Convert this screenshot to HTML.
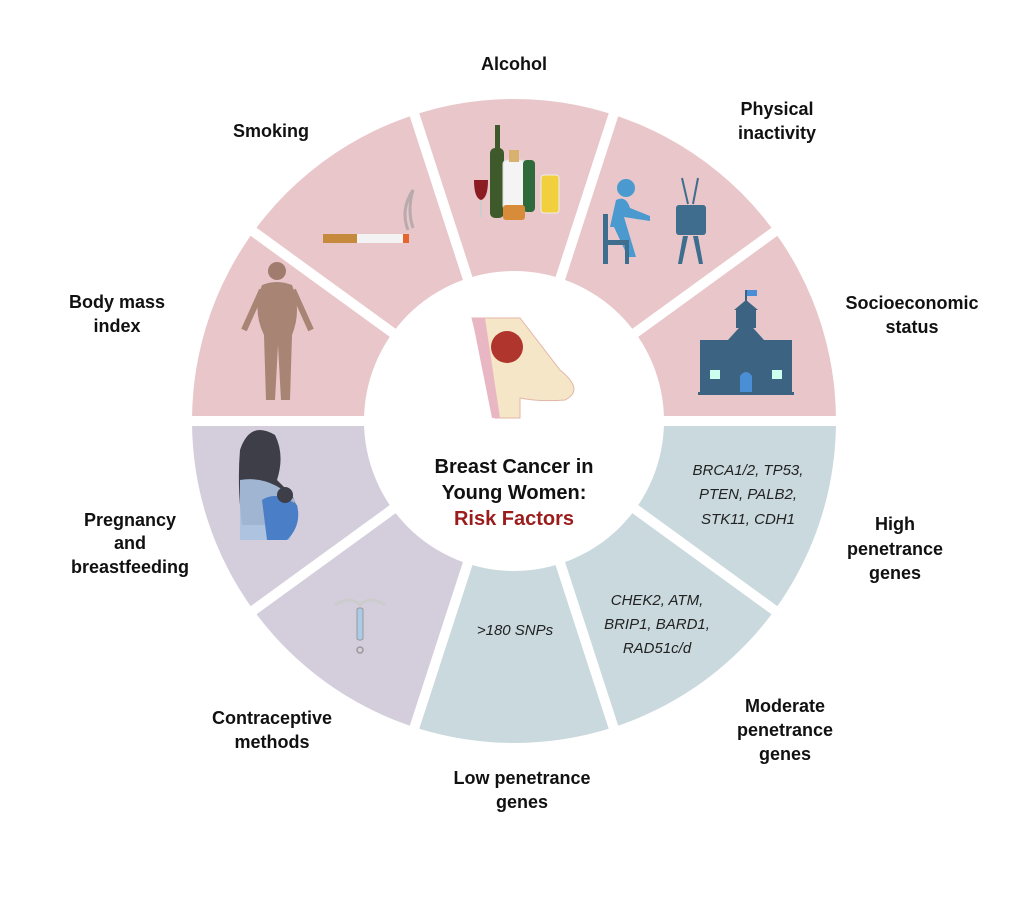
<!DOCTYPE html>
<html><head><meta charset="utf-8"><style>
html,body{margin:0;padding:0;background:#fff;}
svg{display:block;}
.l{font-family:"Liberation Sans",sans-serif;font-weight:bold;font-size:18px;fill:#111;text-anchor:middle;}
.g{font-family:"Liberation Sans",sans-serif;font-style:italic;font-size:15px;fill:#222;text-anchor:middle;}
.t{font-family:"Liberation Sans",sans-serif;font-weight:bold;font-size:20px;fill:#111;text-anchor:middle;}
</style></head><body>
<svg width="1024" height="905" viewBox="0 0 1024 905" xmlns="http://www.w3.org/2000/svg">
<rect width="1024" height="905" fill="#fff"/>
<path d="M192 421 A322 322 0 0 1 836 421 Z" fill="#e8c6ca"/>
<path d="M514 421 L836 421 A322 322 0 0 1 414.5 727.2 Z" fill="#c9d9de"/>
<path d="M514 421 L414.5 727.2 A322 322 0 0 1 192 421 Z" fill="#d4cedc"/>
<g stroke="#fff" stroke-width="10">
<line x1="514" y1="421" x2="844" y2="421"/>
<line x1="514" y1="421" x2="781" y2="227"/>
<line x1="514" y1="421" x2="616" y2="107"/>
<line x1="514" y1="421" x2="412" y2="107"/>
<line x1="514" y1="421" x2="247" y2="227"/>
<line x1="514" y1="421" x2="184" y2="421"/>
<line x1="514" y1="421" x2="247" y2="615"/>
<line x1="514" y1="421" x2="412" y2="735"/>
<line x1="514" y1="421" x2="616" y2="735"/>
<line x1="514" y1="421" x2="781" y2="615"/>
</g>
<circle cx="514" cy="421" r="150" fill="#fff"/>

<!-- breast icon -->
<path d="M472 318 L520 318 L560 370 Q585 390 565 400 Q540 402 520 398 L520 418 L495 418 L495 400 Q485 370 472 318 Z" fill="#f6e6c8" stroke="#e3b6a8"/>
<path d="M472 318 L485 318 L500 418 L492 418 Z" fill="#e9b7c4"/>
<circle cx="507" cy="347" r="16" fill="#b0352c"/>
<!-- alcohol -->
<rect x="490" y="148" width="14" height="70" rx="5" fill="#3f5a2a"/>
<rect x="495" y="125" width="5" height="25" fill="#3f5a2a"/>
<path d="M474 180 h14 q0 18 -7 20 q-7 -2 -7 -20z" fill="#8b1c24"/>
<rect x="480" y="200" width="2" height="17" fill="#ccc"/>
<rect x="503" y="160" width="22" height="50" rx="4" fill="#f4f4f4" stroke="#ddd"/>
<rect x="509" y="150" width="10" height="12" fill="#d8b070"/>
<rect x="523" y="160" width="12" height="52" rx="4" fill="#2f6b3a"/>
<rect x="541" y="175" width="18" height="38" rx="3" fill="#f2cf3c" stroke="#eee"/>
<rect x="503" y="205" width="22" height="15" rx="3" fill="#d88c3a"/>
<!-- smoking -->
<rect x="323" y="234" width="34" height="9" fill="#c58a3b"/>
<rect x="357" y="234" width="46" height="9" fill="#f3f3f3"/>
<rect x="403" y="234" width="6" height="9" fill="#e5652f"/>
<path d="M408 230 q-8 -20 5 -40 q-6 20 0 38" fill="none" stroke="#999" stroke-width="3" opacity=".6"/>
<!-- physical inactivity -->
<circle cx="626" cy="188" r="9" fill="#4a9ad0"/>
<path d="M616 200 q10 -5 14 8 l20 8 v5 l-26 -4 l12 40 h-8 l-14 -30 h-4 z" fill="#4a9ad0"/>
<rect x="603" y="214" width="5" height="50" fill="#3f6d8e"/>
<rect x="603" y="240" width="26" height="5" fill="#3f6d8e"/>
<rect x="625" y="240" width="4" height="24" fill="#3f6d8e"/>
<rect x="676" y="205" width="30" height="30" rx="3" fill="#3f6d8e"/>
<path d="M683 236 l-5 28 h4 l6 -28 M698 236 l5 28 h-4 l-6 -28" fill="#3f6d8e"/>
<path d="M688 204 l-6 -26 M693 204 l5 -26" stroke="#3f6d8e" stroke-width="2"/>
<!-- school -->
<path d="M700 340 h92 v52 h-92 z" fill="#3c6482"/>
<path d="M728 340 l18 -20 l18 20 z" fill="#3c6482"/>
<rect x="736" y="310" width="20" height="18" fill="#3c6482"/>
<path d="M746 300 l-12 10 h24 z" fill="#3c6482"/>
<rect x="745" y="290" width="2" height="12" fill="#3c6482"/>
<rect x="747" y="290" width="10" height="6" fill="#4a8ed6"/>
<path d="M740 392 v-16 q6 -8 12 0 v16z" fill="#4a8ed6"/>
<rect x="710" y="370" width="10" height="9" fill="#cfe"/>
<rect x="772" y="370" width="10" height="9" fill="#cfe"/>
<rect x="698" y="392" width="96" height="3" fill="#3c6482"/>
<!-- body -->
<circle cx="277" cy="271" r="9" fill="#a07c6f"/>
<path d="M262 285 q15 -6 30 0 q10 25 0 50 l-2 65 h-9 l-3 -55 l-3 55 h-9 l-2 -65 q-12 -25 -2 -50z" fill="#a88475"/>
<path d="M262 290 l-18 40 M293 290 l18 40" stroke="#a88475" stroke-width="6"/>
<!-- pregnancy -->
<path d="M240 450 q10 -30 35 -15 q10 20 2 45 l15 15 q10 20 0 30 h-50 q-5 -40 -2 -75z" fill="#3e3e48"/>
<path d="M240 480 q30 -5 55 20 l-5 40 h-50z" fill="#aac2e0" opacity=".9"/>
<path d="M262 500 q15 -10 35 5 q5 20 -10 35 h-20z" fill="#4a7ec7"/>
<circle cx="285" cy="495" r="8" fill="#3e3e48"/>
<!-- IUD -->
<path d="M335 605 q15 -10 25 0 q10 -10 25 0" fill="none" stroke="#ccc" stroke-width="3"/>
<rect x="357" y="608" width="6" height="32" rx="2" fill="#a9cce8" stroke="#999"/>
<circle cx="360" cy="650" r="3" fill="none" stroke="#999" stroke-width="1.5"/>

<!-- center text -->
<text class="t" x="514" y="473">Breast Cancer in</text>
<text class="t" x="514" y="499">Young Women:</text>
<text class="t" x="514" y="525" style="fill:#9b1c1c">Risk Factors</text>

<!-- gene text -->
<text class="g" x="748" y="475">BRCA1/2, TP53,</text>
<text class="g" x="748" y="499">PTEN, PALB2,</text>
<text class="g" x="748" y="524">STK11, CDH1</text>
<text class="g" x="657" y="605">CHEK2, ATM,</text>
<text class="g" x="657" y="629">BRIP1, BARD1,</text>
<text class="g" x="657" y="653">RAD51c/d</text>
<text class="g" x="515" y="635">&gt;180 SNPs</text>

<!-- outer labels -->
<text class="l" x="514" y="70">Alcohol</text>
<text class="l" x="271" y="137">Smoking</text>
<text class="l" x="777" y="115">Physical</text>
<text class="l" x="777" y="139">inactivity</text>
<text class="l" x="117" y="308">Body mass</text>
<text class="l" x="117" y="332">index</text>
<text class="l" x="912" y="309">Socioeconomic</text>
<text class="l" x="912" y="333">status</text>
<text class="l" x="130" y="526">Pregnancy</text>
<text class="l" x="130" y="549">and</text>
<text class="l" x="130" y="573">breastfeeding</text>
<text class="l" x="895" y="530">High</text>
<text class="l" x="895" y="555">penetrance</text>
<text class="l" x="895" y="579">genes</text>
<text class="l" x="272" y="724">Contraceptive</text>
<text class="l" x="272" y="748">methods</text>
<text class="l" x="785" y="712">Moderate</text>
<text class="l" x="785" y="736">penetrance</text>
<text class="l" x="785" y="760">genes</text>
<text class="l" x="522" y="784">Low penetrance</text>
<text class="l" x="522" y="808">genes</text>
</svg>
</body></html>
